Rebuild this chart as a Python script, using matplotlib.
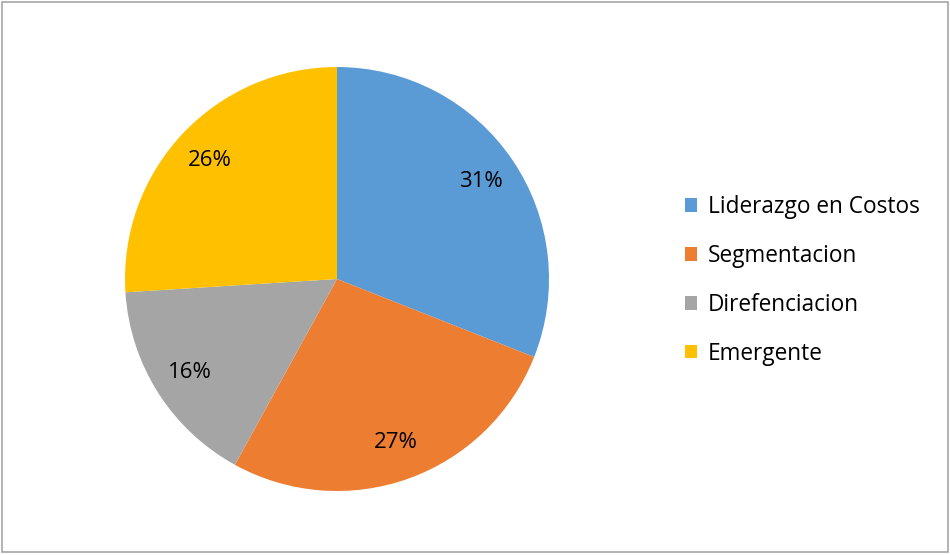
import matplotlib.pyplot as plt
from matplotlib.patches import Rectangle

labels = ["Liderazgo en Costos", "Segmentacion", "Direfenciacion", "Emergente"]
shares = [31, 27, 16, 26]
colors = ["#5B9BD5", "#ED7D31", "#A5A5A5", "#FFC000"]

plt.rcParams['font.family'] = ['Open Sans', 'DejaVu Sans']

fig = plt.figure(figsize=(9.5, 5.55), dpi=100)
ax = fig.add_axes([0.1316, 0.1153, 0.4463, 0.764])

wedges, texts, autotexts = ax.pie(
    shares, colors=colors, startangle=90, counterclock=False,
    autopct='%1.0f%%', pctdistance=0.82,
    textprops={'fontsize': 16, 'color': 'black'})
ax.set_xlim(-1, 1)
ax.set_ylim(-1, 1)
ax.set_aspect('equal')

fig.legend(wedges, labels, loc='center left', bbox_to_anchor=(0.721, 0.495),
           frameon=False, fontsize=16.3, handlelength=0.55, handleheight=0.55,
           handletextpad=0.45, labelspacing=1.1, borderpad=0, borderaxespad=0)

# thin gray frame around the chart area
fig.patches.append(Rectangle((0.002, 0.006), 0.996, 0.99, transform=fig.transFigure,
                             fill=False, edgecolor='#A6A6A6', linewidth=1.2))

fig.savefig("out.png", dpi=100)
